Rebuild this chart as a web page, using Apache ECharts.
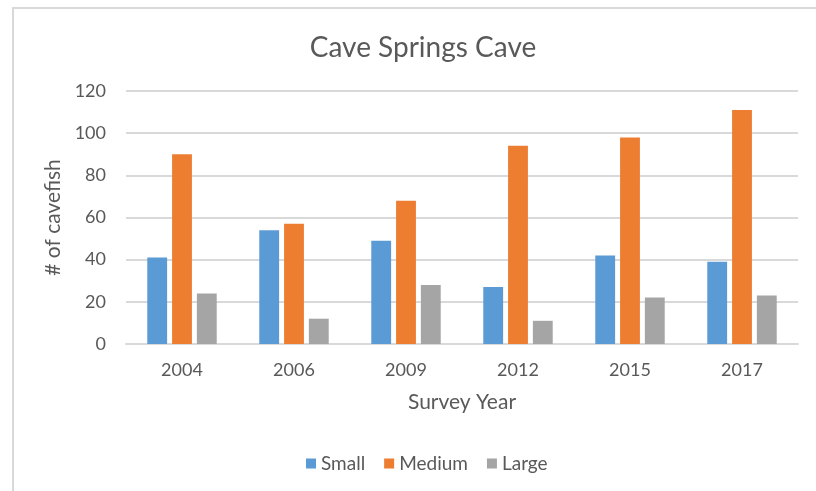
<!DOCTYPE html>
<html>
<head>
<meta charset="utf-8">
<script src="https://cdn.jsdelivr.net/npm/echarts@6/dist/echarts.min.js"></script>
<style>
html,body{margin:0;padding:0;background:#fff;overflow:hidden;}
#frame{position:absolute;left:12px;top:7px;width:900px;height:600px;border:2px solid #d9d9d9;box-sizing:border-box;}
#chart{position:absolute;left:0;top:0;width:816px;height:491px;}
</style>
</head>
<body>
<div id="frame"></div>
<div id="chart"></div>
<script>
const categories = ['2004','2006','2009','2012','2015','2017'];
const small = [41, 54, 49, 27, 42, 39];
const medium = [90, 57, 68, 94, 98, 111];
const large = [24, 12, 28, 11, 22, 23];
const seriesNames = ['Small','Medium','Large'];

const chart = echarts.init(document.getElementById('chart'), null, {renderer:'canvas'});
const font = 'Lato, "Open Sans", sans-serif';
chart.setOption({
  animation:false,
  title:{text:'Cave Springs Cave', left:418, top:29, textAlign:'center',
    textStyle:{fontFamily:font, fontSize:28, fontWeight:'normal', color:'#595959'}},
  color:['#5b9bd5','#ed7d31','#a5a5a5'],
  legend:{data:seriesNames, top:449, left:301, itemWidth:10, itemHeight:10, itemGap:19,
    icon:'rect', textStyle:{fontFamily:font, fontSize:19, color:'#595959'}},
  grid:{left:126, right:18, top:91, bottom:147},
  xAxis:{type:'category', data:categories, name:'Survey Year', nameLocation:'middle', nameGap:48,
    nameTextStyle:{fontFamily:font, fontSize:21, color:'#595959'},
    axisLine:{lineStyle:{color:'#d9d9d9', width:2}}, axisTick:{show:false},
    axisLabel:{fontFamily:font, fontSize:18, color:'#595959', margin:17}},
  yAxis:{type:'value', min:0, max:120, interval:20, name:'# of cavefish', nameLocation:'middle', nameGap:54,
    nameTextStyle:{fontFamily:font, fontSize:21, color:'#595959'},
    axisLine:{show:false}, axisTick:{show:false},
    axisLabel:{fontFamily:font, fontSize:18, color:'#595959', margin:20},
    splitLine:{lineStyle:{color:'#d9d9d9', width:2}}},
  series:[
    {name:seriesNames[0], type:'bar', data:small, barGap:'25%', barCategoryGap:'38%'},
    {name:seriesNames[1], type:'bar', data:medium, barGap:'25%', barCategoryGap:'38%'},
    {name:seriesNames[2], type:'bar', data:large, barGap:'25%', barCategoryGap:'38%'}
  ]
});
</script>
</body>
</html>
